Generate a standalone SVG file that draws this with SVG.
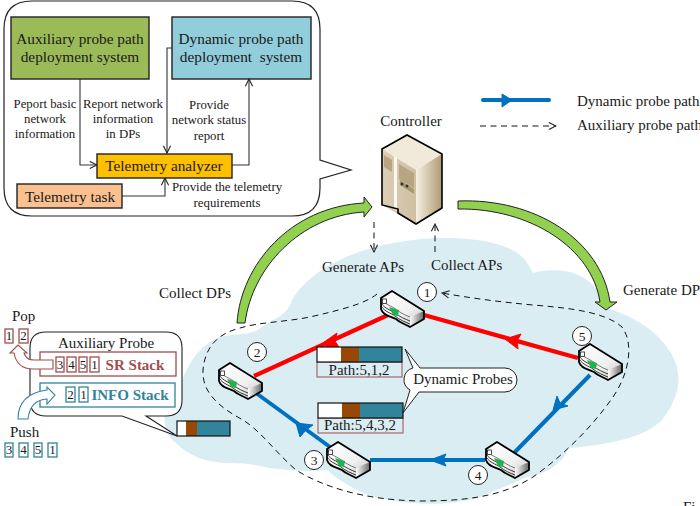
<svg xmlns="http://www.w3.org/2000/svg" width="700" height="506" viewBox="0 0 700 506">
<style>
text{font-family:"Liberation Serif","Times New Roman",serif;fill:#1a1a1a}
.s{font-size:12.8px;text-anchor:middle}
.m{font-size:15px}
.b{font-size:15.3px;text-anchor:middle}
.box{stroke:#222;stroke-width:1.4}
.wire{fill:none;stroke:#333;stroke-width:1.1}
.dash{fill:none;stroke:#111;stroke-width:1;stroke-dasharray:6 4.5}
.num{fill:#fff;stroke:#222;stroke-width:1}
.numt{font-size:13.5px;text-anchor:middle}
.red{stroke:#ff0000;stroke-width:4.2;fill:none}
.blue{stroke:#0070c0;stroke-width:4;fill:none}
.green{fill:#92d050;stroke:#222;stroke-width:1}
.t{fill:#31849b}.br{fill:#974706}
.cr{fill:#fff;stroke:#a04d4d;stroke-width:1.3}
.ct{fill:#fff;stroke:#31849b;stroke-width:1.3}
.c{font-size:13px;text-anchor:middle}
</style>
<defs>
<marker id="open" viewBox="0 0 10 10" refX="9" refY="5" markerWidth="9" markerHeight="9" markerUnits="userSpaceOnUse" orient="auto"><path d="M1,1 L9,5 L1,9" fill="none" stroke="#222" stroke-width="1.2"/></marker>
<linearGradient id="rtop" x1="0" y1="0" x2="1" y2="1"><stop offset="0" stop-color="#fff"/><stop offset=".6" stop-color="#f0f0f0"/><stop offset="1" stop-color="#c0c0c0"/></linearGradient>
<linearGradient id="rside" x1="0" y1="0" x2="1" y2="0"><stop offset="0" stop-color="#fff"/><stop offset="1" stop-color="#666"/></linearGradient>
<linearGradient id="sfront" x1="0" y1="0" x2="1" y2="0"><stop offset="0" stop-color="#dccfb6"/><stop offset="1" stop-color="#cfc0a2"/></linearGradient>
<linearGradient id="sside" x1="0" y1="0" x2="1" y2="0"><stop offset="0" stop-color="#f6f0e4"/><stop offset="1" stop-color="#b09a72"/></linearGradient>
<g id="router">
<path d="M1,7 L12,0 L44,20 L44,28 L30,36 C25,33 20,32 16,28 C11,25 3,25 1,18Z" fill="url(#rtop)"/>
<path d="M30,26 L44,20 L44,28 L30,36Z" fill="url(#rside)"/>
<path d="M1,7 C3,12 9,14 14,17 C18,20 24,24 30,26" fill="none" stroke="#000" stroke-width=".5"/>
<path d="M1,12 C5,18 11,19 15,22 C20,26 25,28 30,30 M1,15 C5,21 11,22 15,25 C20,29 25,31 30,33" fill="none" stroke="#222" stroke-width=".9"/>
<rect x="2.500" y="8" width="4" height="4.500" fill="#fff" stroke="#222" stroke-width=".8"/>
<path d="M9,16 L19,19 L18,25 L13,24Z" fill="#21b24b"/>
<path d="M1,7 L12,0 L44,20 L44,28 L30,36 C25,33 20,32 16,28 C11,25 3,25 1,18Z" fill="none" stroke="#000" stroke-width="1.800" stroke-linejoin="round"/>
</g>
</defs>

<g id="cloud">
<path d="M177,444 C160,432 160,405 180,387 C188,362 200,345 220,337 C235,333 250,337 262,327 C275,318 288,315 292,300 C300,285 318,270 340,260 C370,245 410,238 447,238 C475,238 505,243 520,255 C527,260 530,268 533,273 C545,270 565,268 580,276 C592,282 600,290 606,308 C632,315 660,332 672,355 C683,375 680,397 662,420 C645,437 610,445 568,448 C565,462 545,475 527,477 C510,485 495,490 480,497 C450,506 415,505 390,500 C365,497 345,485 327,470 C310,472 290,471 270,468 C255,465 245,463 230,463 C205,463 188,455 177,444Z" fill="#daedf3"/>
</g>

<g id="connectors">
<path class="dash" d="M377,294 C365,304 340,310 310,317 C285,322 260,322 240,328 C220,333 205,345 203,370 C202,390 215,405 243,420 C262,432 275,452 296,470 C320,485 360,500 420,501 C460,501 500,498 533,477 C560,458 590,430 613,397 C628,375 635,345 622,327 C605,312 570,308 533,305 C500,302 470,298 442,293" marker-end="url(#open)"/>
<path class="dash" d="M374,222 V252" marker-end="url(#open)"/>
<path class="dash" d="M435,252 V224" marker-end="url(#open)"/>
<path class="red" d="M388,315 L254,376"/>
<path d="M320,345 L337,333 L335,341 L340,349Z" fill="#f00" stroke="#f00"/>
<path class="red" d="M578,358 L424,315"/>
<path d="M505,339 L521,334 L517,341 L518,349Z" fill="#f00" stroke="#f00"/>
<path class="blue" d="M590,375 L514,453"/>
<path d="M553,410 L557,396 L560,403 L568,406Z" fill="#0070c0" stroke="#0070c0"/>
<path class="blue" d="M485,460 H370"/>
<path d="M430,460 L446,454 L443,460 L446,466Z" fill="#0070c0" stroke="#0070c0"/>
<path class="blue" d="M330,447 L256,393"/>
<path d="M296,423 L313,425 L306,430 L300,437Z" fill="#0070c0" stroke="#0070c0"/>
<path class="green" d="M237,323 C241,265 290,207 364,203 V197 L372,207 L364,217 V212 C300,216 252,268 245,323Z"/>
<path class="green" d="M458,201 C535,198 601,240 610,302 H617 L606,310 L595,302 H600 C592,248 530,208 458,209Z"/>
</g>

<g id="callout-system">
<path d="M32,1 H292 Q320,1 320,29 V160 L351,170 L320,179 V188 Q320,216 292,216 H32 Q4,216 4,188 V29 Q4,1 32,1Z" fill="#fff" stroke="#222" stroke-width="1.2"/>
</g>
<g id="aux-system"><rect class="box" x="11" y="17" width="138" height="62" fill="#9bbb59"/>
<text class="b" x="80" y="44">Auxiliary probe path</text><text class="b" x="80" y="62">deployment system</text></g>
<g id="dyn-system"><rect class="box" x="172" y="17" width="139" height="62" fill="#92cddc"/>
<text class="b" x="241" y="44">Dynamic probe path</text><text class="b" x="241" y="62" xml:space="preserve">deployment  system</text></g>
<g id="system-wires">
<path class="wire" d="M80,79 V165 H97" marker-end="url(#open)"/>
<path class="wire" d="M172,48 H167 V153" marker-end="url(#open)"/>
<path class="wire" d="M232,165 H249 V79" marker-end="url(#open)"/>
<path class="wire" d="M122,196 H165 V178" marker-end="url(#open)"/>
</g>
<g id="analyzer"><rect class="box" x="97" y="154" width="135" height="24" fill="#ffc000"/><text class="b" x="164" y="171">Telemetry analyzer</text></g>
<g id="task"><rect class="box" x="17" y="184" width="105" height="24" fill="#fac090"/><text class="b" x="70" y="202">Telemetry task</text></g>
<g id="system-labels">
<text class="s" x="45" y="108">Peport basic</text><text class="s" x="45" y="123">network</text><text class="s" x="45" y="138">information</text>
<text class="s" x="123" y="108">Report network</text><text class="s" x="123" y="123">information</text><text class="s" x="123" y="138">in DPs</text>
<text class="s" x="209" y="109">Provide</text><text class="s" x="209" y="124">network status</text><text class="s" x="209" y="140">report</text>
<text class="s" x="227" y="191">Provide the telemetry</text><text class="s" x="227" y="207">requirements</text>
</g>

<g id="controller">
<path d="M382,149 L407,135 L442,154 L416,170Z" fill="#f1eadb"/>
<path d="M382,149 L416,170 V224 L382,205Z" fill="url(#sfront)"/>
<path d="M416,170 L442,154 V208 L416,224Z" fill="url(#sside)"/>
<path d="M394,156 L397,158 V211 L394,209Z" fill="#fbf8f1"/>
<path d="M384,155 L392,160 V172 L384,167Z M399,164 L414,173 V188 L399,179Z" fill="#b7a681"/>
<path d="M400,180 L414,189 V194 L400,185Z" fill="#a89770"/>
<circle cx="402" cy="184" r="1.500" fill="#333"/><circle cx="407" cy="186" r="1.500" fill="#333"/>
<path d="M382,149 L407,135 L442,154 V208 L416,224 L398,213 V209 L382,205Z" fill="none" stroke="#000" stroke-width="1.600"/>
</g>
<text class="m" x="411" y="126" text-anchor="middle">Controller</text>

<use id="router1" href="#router" x="380" y="291"/>
<use id="router2" href="#router" x="218" y="363"/>
<use id="router3" href="#router" x="326" y="442"/>
<use id="router4" href="#router" x="485" y="442"/>
<use id="router5" href="#router" x="578" y="344"/>
<g id="n1"><circle class="num" cx="427" cy="292" r="9.500"/><text class="numt" x="427" y="297">1</text></g>
<g id="n2"><circle class="num" cx="257" cy="352" r="9.500"/><text class="numt" x="257" y="357">2</text></g>
<g id="n3"><circle class="num" cx="314" cy="460" r="9.500"/><text class="numt" x="314" y="465">3</text></g>
<g id="n4"><circle class="num" cx="478" cy="475" r="9.500"/><text class="numt" x="478" y="480">4</text></g>
<g id="n5"><circle class="num" cx="582" cy="336" r="9.500"/><text class="numt" x="582" y="341">5</text></g>

<g id="probe-a">
<rect x="317" y="362" width="85" height="15" fill="#daedf3" stroke="#a04d4d" stroke-width="1"/>
<rect x="317" y="347" width="85" height="15" class="t"/><rect x="317" y="347" width="24" height="15" fill="#fff"/><rect x="341" y="347" width="18" height="15" class="br"/>
<rect x="317" y="347" width="85" height="15" fill="none" stroke="#111" stroke-width="1.2"/>
<text class="m" x="359" y="375" text-anchor="middle">Path:5,1,2</text></g>
<g id="probe-b">
<rect x="318" y="418" width="85" height="15" fill="#daedf3" stroke="#a04d4d" stroke-width="1"/>
<rect x="318" y="403" width="85" height="15" class="t"/><rect x="318" y="403" width="24" height="15" fill="#fff"/><rect x="342" y="403" width="18" height="15" class="br"/>
<rect x="318" y="403" width="85" height="15" fill="none" stroke="#111" stroke-width="1.2"/>
<text class="m" x="360" y="430" text-anchor="middle">Path:5,4,3,2</text></g>
<g id="dynamic-probes">
<path d="M405,349 L420,368 H505 A12,12 0 0 1 505,392 H419 L403,413 L410,390 A12,12 0 0 1 413,368Z" fill="#fff" stroke="#222" stroke-width="1"/>
<text class="m" x="463" y="384" text-anchor="middle">Dynamic Probes</text></g>

<g id="aux-callout">
<path d="M46,332 H166 Q182,332 182,348 V400 Q182,416 166,416 H146 L177,436 L122,416 H46 Q30,416 30,400 V348 Q30,332 46,332Z" fill="#fff" stroke="#222" stroke-width="1.1"/>
<text class="m" x="106" y="348" text-anchor="middle">Auxiliary Probe</text>
<rect x="40" y="352" width="136" height="24" fill="#fff" stroke="#a04d4d" stroke-width="1.3"/>
<rect x="40" y="383" width="135" height="24" fill="#fff" stroke="#31849b" stroke-width="1.3"/>
<text x="135" y="370" text-anchor="middle" font-size="15" font-weight="bold" style="fill:#a04d4d">SR Stack</text>
<text x="130" y="400" text-anchor="middle" font-size="15" font-weight="bold" style="fill:#31849b">INFO Stack</text>
</g>
<g id="aux-bar"><rect x="177" y="421" width="53" height="15" class="t"/><rect x="177" y="421" width="9" height="15" fill="#fff"/><rect x="186" y="421" width="11" height="15" class="br"/><rect x="177" y="421" width="53" height="15" fill="none" stroke="#111" stroke-width="1.2"/></g>
<g id="pop-arrow"><path d="M53,360 H34 Q26,360 24,353 H27 L18,345 L10,353 H14 Q17,369 33,369 H53Z" fill="#fff" stroke="#a04d4d" stroke-width="1.1"/></g>
<g id="push-arrow"><path d="M18,419 Q18,394 47,390 V387 L55,395 L47,404 V399 Q30,400 28,419Z" fill="#fff" stroke="#31849b" stroke-width="1.1"/></g>
<g id="sr-cells">
<rect class="cr" x="56" y="357" width="8" height="15"/><text class="c" x="60" y="369">3</text>
<rect class="cr" x="67" y="357" width="9" height="15"/><text class="c" x="71.500" y="369">4</text>
<rect class="cr" x="79" y="357" width="8" height="15"/><text class="c" x="83" y="369">5</text>
<rect class="cr" x="90" y="357" width="9" height="15"/><text class="c" x="94.500" y="369">1</text>
</g>
<g id="info-cells">
<rect class="ct" x="66" y="387" width="9" height="15"/><text class="c" x="70.500" y="399">2</text>
<rect class="ct" x="79" y="387" width="9" height="15"/><text class="c" x="83.500" y="399">1</text>
</g>
<g id="pop"><text class="m" x="12" y="321">Pop</text>
<rect class="cr" x="5" y="329" width="8" height="14"/><text class="c" x="9" y="340">1</text>
<rect class="cr" x="19" y="329" width="9" height="14"/><text class="c" x="23.500" y="340">2</text></g>
<g id="push"><text class="m" x="10" y="437">Push</text>
<rect class="ct" x="5" y="443" width="8" height="14"/><text class="c" x="9" y="454">3</text>
<rect class="ct" x="19" y="443" width="9" height="14"/><text class="c" x="23.500" y="454">4</text>
<rect class="ct" x="34" y="443" width="8" height="14"/><text class="c" x="38" y="454">5</text>
<rect class="ct" x="48" y="443" width="9" height="14"/><text class="c" x="52.500" y="454">1</text></g>

<g id="labels">
<text class="m" x="159" y="298">Collect DPs</text>
<text class="m" x="322" y="272">Generate APs</text>
<text class="m" x="431" y="270">Collect APs</text>
<text class="m" x="623" y="295">Generate DP</text>
<text class="m" x="683" y="512">Fi</text>
</g>
<g id="legend">
<path d="M483,100 H549" stroke="#0070c0" stroke-width="4" stroke-linecap="round" fill="none"/>
<path d="M502,94 L512,100 L502,107Z" fill="#0070c0" stroke="#0070c0"/>
<path class="dash" d="M480,126 H556" marker-end="url(#open)"/>
<text class="m" x="577" y="106">Dynamic probe path</text>
<text class="m" x="577" y="130">Auxiliary probe path</text>
</g>
</svg>
